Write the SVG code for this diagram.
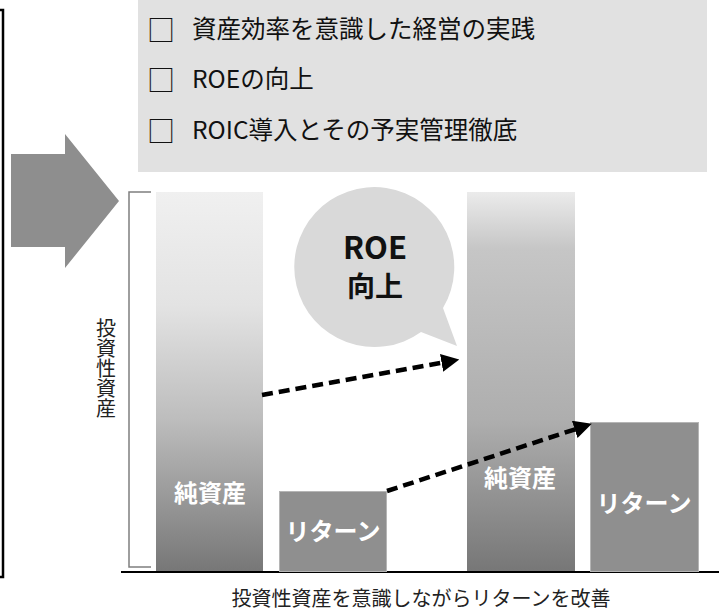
<svg xmlns="http://www.w3.org/2000/svg" width="719" height="611" viewBox="0 0 719 611">
<defs>
<style>
text{font-family:"Noto Sans CJK JP","Noto Sans",sans-serif;}
.list{font-size:24.5px;fill:#111;}
.chk{font-size:28px;fill:#111;}
.lbl{font-size:24px;font-weight:bold;fill:#fff;text-anchor:middle;}
.ret{fill:#8f8f8f;stroke:#b5b5b5;stroke-width:1;}
.dash{fill:none;stroke:#000;stroke-width:4.5;stroke-dasharray:11 6;}
</style>
<linearGradient id="g1" x1="0" y1="0" x2="0" y2="1">
<stop offset="0" stop-color="#f0f0f0"/>
<stop offset="0.3" stop-color="#e3e3e3"/>
<stop offset="0.6" stop-color="#bdbdbd"/>
<stop offset="1" stop-color="#777"/>
</linearGradient>
<linearGradient id="g2" x1="0" y1="0" x2="0" y2="1">
<stop offset="0" stop-color="#ebebeb"/>
<stop offset="0.15" stop-color="#c6c6c6"/>
<stop offset="0.6" stop-color="#aeaeae"/>
<stop offset="1" stop-color="#777"/>
</linearGradient>
<marker id="ah" markerWidth="4" markerHeight="4" refX="1" refY="2" orient="auto" markerUnits="strokeWidth">
<path d="M0,0 L4,2 L0,4 Z" fill="#000"/>
</marker>
</defs>
<rect id="leftframe" x="-20" y="10" width="23" height="567" fill="none" stroke="#000" stroke-width="2.5"/>
<g id="list">
<rect x="138" y="0" width="569" height="172" fill="#e1e1e1"/>
<text class="chk" x="147" y="41">□</text>
<text class="list" x="192" y="38">資産効率を意識した経営の実践</text>
<text class="chk" x="147" y="91">□</text>
<text class="list" x="192" y="88">ROEの向上</text>
<text class="chk" x="147" y="142">□</text>
<text class="list" x="192" y="139">ROIC導入とその予実管理徹底</text>
</g>
<g id="bigarrow">
<polygon points="11,154 65,154 65,134 119,201 65,268 65,247 11,247" fill="#8e8e8e"/>
</g>
<g id="axis">
<polyline points="151,192 129,192 129,567 151,567" fill="none" stroke="#7f7f7f" stroke-width="1.5"/>
<text x="106" y="318" font-size="20" fill="#222" style="writing-mode:vertical-rl">投資性資産</text>
<line x1="121" y1="572" x2="719" y2="572" stroke="#000" stroke-width="2"/>
<text x="421" y="606" font-size="20" fill="#222" text-anchor="middle">投資性資産を意識しながらリターンを改善</text>
</g>
<g id="bar1">
<rect x="156" y="192" width="107" height="379" fill="url(#g1)"/>
<text class="lbl" x="210" y="502">純資産</text>
</g>
<g id="bar2">
<rect class="ret" x="279.5" y="491.5" width="107" height="80"/>
<text class="lbl" x="333" y="540">リターン</text>
</g>
<g id="bar3">
<rect x="467" y="192" width="108" height="379" fill="url(#g2)"/>
<text class="lbl" x="520" y="487">純資産</text>
</g>
<g id="bar4">
<rect class="ret" x="590.5" y="422.5" width="108" height="149"/>
<text class="lbl" x="644" y="512">リターン</text>
</g>
<g id="bubble">
<path d="M443,308 A80,80 0 1 0 421,332 L457,346 Z" fill="#d9d9d9"/>
<text x="375" y="259" font-size="31" font-weight="bold" fill="#111" text-anchor="middle">ROE</text>
<text x="375" y="297" font-size="28" font-weight="bold" fill="#111" text-anchor="middle">向上</text>
</g>
<g id="connectors">
<line class="dash" x1="262" y1="395" x2="446" y2="362" marker-end="url(#ah)"/>
<line class="dash" x1="387" y1="491" x2="579" y2="428" marker-end="url(#ah)"/>
</g>
</svg>
